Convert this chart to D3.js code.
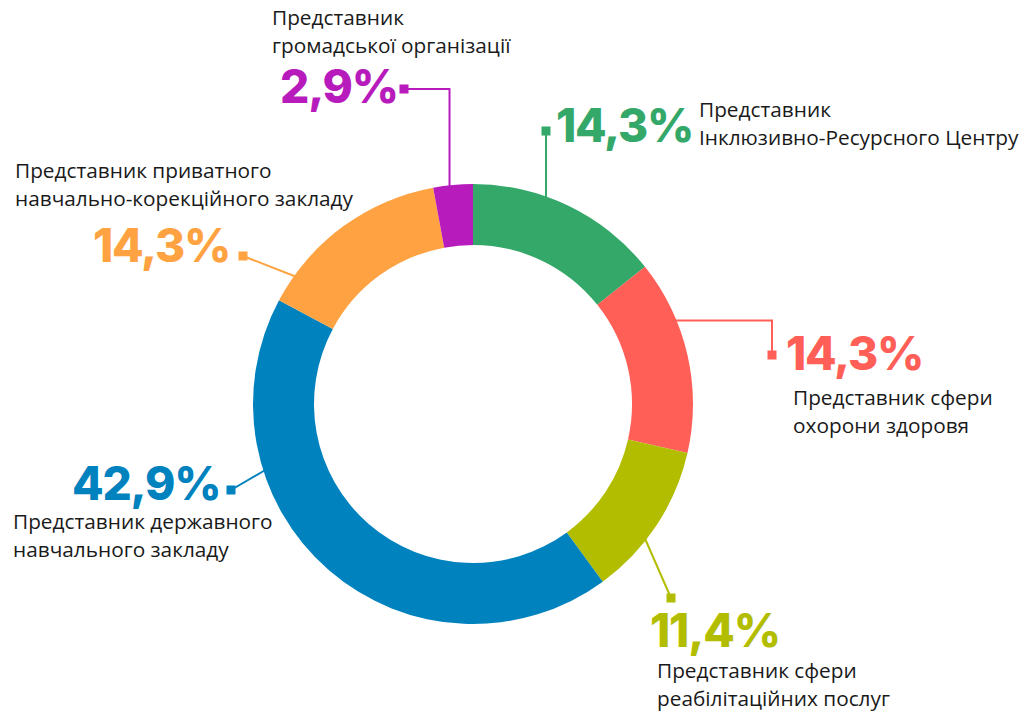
<!DOCTYPE html>
<html>
<head>
<meta charset="utf-8">
<script src="https://cdn.jsdelivr.net/npm/d3@7"></script>
<style>
  body { margin: 0; background: #fff; }
  .pct { font-family: Inter, "Noto Sans", sans-serif; font-weight: 800; font-size: 46px; letter-spacing: -1.2px; }
  .lbl { font-family: "Open Sans", "Noto Sans", sans-serif; font-size: 20.8px; fill: #1a1a1a; }
</style>
</head>
<body>
<svg id="chart" width="1026" height="715"></svg>
<script>
// slices, clockwise from 12 o'clock
var categories = [
    ["Представник", "Інклюзивно-Ресурсного Центру"],
    ["Представник сфери", "охорони здоровя"],
    ["Представник сфери", "реабілітаційних послуг"],
    ["Представник державного", "навчального закладу"],
    ["Представник приватного", "навчально-корекційного закладу"],
    ["Представник", "громадської організації"]
];
var values = [14.3, 14.3, 11.4, 42.9, 14.3, 2.9];
var pctLabels = ["14,3%", "14,3%", "11,4%", "42,9%", "14,3%", "2,9%"];
var colors = ["#33a869", "#ff5f57", "#b3bd00", "#0082be", "#ffa242", "#b81bbc"];

// where each label / leader goes (layout only)
// ang = where the leader touches the ring, sq = marker square, elbow = "hv" | "vh" | null
var layout = [
    {ang: 19.5, sq: [546, 131], elbow: null, pct: [556, 142], lbl: [699, 117]},
    {ang: 67, sq: [772, 355], elbow: "vh", pct: [786, 370], lbl: [793, 405]},
    {ang: 127.4, sq: [671, 598], elbow: null, pct: [650, 647], lbl: [657, 678]},
    {ang: 252.6, sq: [231, 490], elbow: null, pct: [72, 500], lbl: [13, 529]},
    {ang: 306, sq: [243, 256], elbow: null, pct: [93, 262], lbl: [15, 178]},
    {ang: 353.7, sq: [404, 89], elbow: "hv", pct: [280, 103], lbl: [272, 25]}
];

var cx = 473, cy = 404, outerR = 220, innerR = 159, lineH = 27.5;

var svg = d3.select("#chart");

var pie = d3.pie().sort(null).value(function(d) { return d; });
var arc = d3.arc().innerRadius(innerR).outerRadius(outerR);
var arcs = pie(values);

// leader lines first, so the ring covers their ends
var leaders = svg.append("g");
layout.forEach(function(l, i) {
    var p = d3.pointRadial(l.ang * Math.PI / 180, outerR - 6);
    var ring = [cx + p[0], cy + p[1]];
    var pts;
    if (l.elbow === "hv") pts = [l.sq, [ring[0], l.sq[1]], ring];
    else if (l.elbow === "vh") pts = [l.sq, [l.sq[0], ring[1]], ring];
    else if (i === 0) pts = [l.sq, [l.sq[0], ring[1]]];
    else pts = [l.sq, ring];
    leaders.append("path")
        .attr("d", d3.line()(pts))
        .attr("fill", "none")
        .attr("stroke", colors[i])
        .attr("stroke-width", 2);
    leaders.append("rect")
        .attr("x", l.sq[0] - 4.5).attr("y", l.sq[1] - 4.5)
        .attr("width", 9).attr("height", 9)
        .attr("fill", colors[i]);
});

svg.append("g")
    .attr("transform", "translate(" + cx + "," + cy + ")")
    .selectAll("path")
    .data(arcs)
    .enter().append("path")
        .attr("d", arc)
        .attr("fill", function(d, i) { return colors[i]; });

// percentages
svg.append("g").selectAll("text")
    .data(pctLabels)
    .enter().append("text")
        .attr("class", "pct")
        .attr("x", function(d, i) { return layout[i].pct[0]; })
        .attr("y", function(d, i) { return layout[i].pct[1]; })
        .attr("fill", function(d, i) { return colors[i]; })
        .text(function(d) { return d; });

// category labels, two lines each
var lbls = svg.append("g").selectAll("text")
    .data(categories)
    .enter().append("text")
        .attr("class", "lbl")
        .attr("x", function(d, i) { return layout[i].lbl[0]; })
        .attr("y", function(d, i) { return layout[i].lbl[1]; });
lbls.selectAll("tspan")
    .data(function(d, i) { return d.map(function(t) { return {t: t, x: layout[i].lbl[0]}; }); })
    .enter().append("tspan")
        .attr("x", function(d) { return d.x; })
        .attr("dy", function(d, j) { return j === 0 ? 0 : lineH; })
        .text(function(d) { return d.t; });
</script>
</body>
</html>
